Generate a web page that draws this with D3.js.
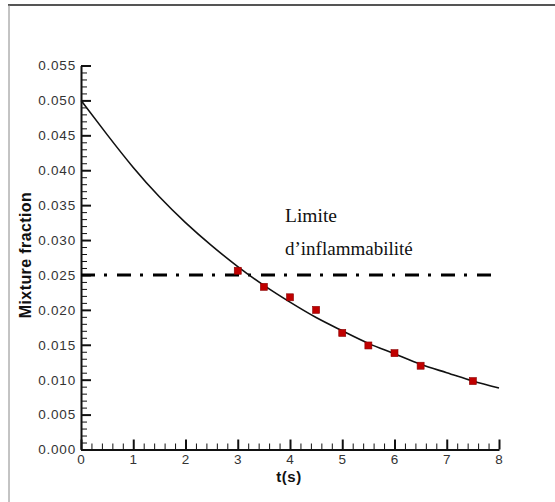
<!DOCTYPE html>
<html><head><meta charset="utf-8">
<script src="https://cdn.jsdelivr.net/npm/d3@7"></script>
<style>
body{margin:0;background:#fff;}
svg{display:block;}
</style></head>
<body>
<svg id="chart" width="555" height="502"></svg>
<script>
// ---- data ----
const curveT = [0, 0.5, 1, 1.5, 2, 2.5, 3, 3.5, 4, 4.5, 5, 5.5, 6, 6.5, 7, 7.5, 8];
const curveY = [0.0500, 0.0451, 0.0404, 0.0362, 0.0325, 0.0292, 0.0262, 0.0235, 0.0211, 0.0189, 0.0170, 0.0152, 0.0137, 0.0122, 0.0110, 0.0098, 0.0088];
const markerT = [3.0, 3.5, 4.0, 4.5, 5.0, 5.5, 6.0, 6.5, 7.5];
const markerY = [0.0256, 0.0233, 0.0218, 0.0200, 0.0167, 0.0149, 0.0138, 0.0120, 0.0098];
const limitY = 0.025;
const limitT = [0, 7.85];
const xTicks = [0, 1, 2, 3, 4, 5, 6, 7, 8];
const yTicks = [0, 0.005, 0.010, 0.015, 0.020, 0.025, 0.030, 0.035, 0.040, 0.045, 0.050, 0.055];
const xLabel = "t(s)";
const yLabel = "Mixture fraction";
const annotation = ["Limite", "d\u2019inflammabilit\u00e9"];

// ---- layout ----
const svg = d3.select("#chart");
const x = d3.scaleLinear().domain([0, 8]).range([81, 499]);
const y = d3.scaleLinear().domain([0, 0.055]).range([449.5, 65.5]);

// frame
svg.append("line").attr("x1", 8).attr("x2", 555).attr("y1", 5).attr("y2", 5)
  .attr("stroke", "#555").attr("stroke-width", 2);
svg.append("line").attr("x1", 9).attr("x2", 9).attr("y1", 5).attr("y2", 502)
  .attr("stroke", "#888").attr("stroke-width", 1);

// minor ticks
const xMinor = d3.range(0, 8.0001, 0.2).filter(v => Math.abs(v - Math.round(v)) > 1e-6);
const yMinor = d3.range(0, 0.05501, 0.001).filter(v => Math.abs(v / 0.005 - Math.round(v / 0.005)) > 1e-6);

svg.append("g").attr("transform", `translate(0,${y(0)})`)
  .call(d3.axisBottom(x).tickValues(xMinor).tickSizeInner(-6).tickSizeOuter(0).tickFormat(""))
  .call(g => g.select(".domain").remove())
  .call(g => g.selectAll("line").attr("stroke", "#111").attr("stroke-width", 1));
svg.append("g").attr("transform", `translate(${x(0)},0)`)
  .call(d3.axisLeft(y).tickValues(yMinor).tickSizeInner(-6).tickSizeOuter(0).tickFormat(""))
  .call(g => g.select(".domain").remove())
  .call(g => g.selectAll("line").attr("stroke", "#111").attr("stroke-width", 1));

// major axes
const xAxis = svg.append("g").attr("transform", `translate(0,${y(0)})`)
  .call(d3.axisBottom(x).tickValues(xTicks).tickSizeInner(-10).tickSizeOuter(0).tickPadding(4).tickFormat(d3.format("d")));
const yAxis = svg.append("g").attr("transform", `translate(${x(0)},0)`)
  .call(d3.axisLeft(y).tickValues(yTicks).tickSizeInner(-10).tickSizeOuter(0).tickPadding(5).tickFormat(d3.format(".3f")));
[xAxis, yAxis].forEach(g => {
  g.select(".domain").attr("stroke", "#111").attr("stroke-width", 2);
  g.selectAll(".tick line").attr("stroke", "#111").attr("stroke-width", 2);
  g.selectAll(".tick text").attr("fill", "#333").attr("font-family", "Liberation Sans, Arial, sans-serif")
    .attr("font-size", 13.5).attr("letter-spacing", "0.8px");
});
xAxis.selectAll(".tick text").attr("dy", "0.8em");

// limit line (dash-dot)
svg.append("line")
  .attr("x1", x(limitT[0])).attr("x2", x(limitT[1]))
  .attr("y1", y(limitY)).attr("y2", y(limitY))
  .attr("stroke", "#000").attr("stroke-width", 3)
  .attr("stroke-dasharray", "14,9,3,10");

// curve
const line = d3.line().x((d, i) => x(curveT[i])).y(d => y(d)).curve(d3.curveNatural);
svg.append("path").datum(curveY).attr("d", line)
  .attr("fill", "none").attr("stroke", "#111").attr("stroke-width", 1.6);

// markers
svg.append("g").selectAll("rect").data(markerY).join("rect")
  .attr("x", (d, i) => x(markerT[i]) - 3.5).attr("y", d => y(d) - 3.5)
  .attr("width", 7).attr("height", 7)
  .attr("fill", "#c00000").attr("stroke", "#8a0000").attr("stroke-width", 0.6);

// annotation
svg.append("text").attr("x", 285).attr("y", 222).text(annotation[0])
  .attr("font-family", "Liberation Serif, Times New Roman, serif").attr("font-size", 19.5).attr("fill", "#111");
svg.append("text").attr("x", 285).attr("y", 255).text(annotation[1])
  .attr("font-family", "Liberation Serif, Times New Roman, serif").attr("font-size", 19).attr("fill", "#111");

// axis titles
svg.append("text").attr("x", 289).attr("y", 482).attr("text-anchor", "middle").text(xLabel)
  .attr("font-family", "Liberation Sans, Arial, sans-serif").attr("font-weight", "bold").attr("font-size", 15)
  .attr("letter-spacing", "0.5px").attr("fill", "#111");
svg.append("text").attr("transform", "translate(31,255) rotate(-90)").attr("text-anchor", "middle").text(yLabel)
  .attr("font-family", "Liberation Sans, Arial, sans-serif").attr("font-weight", "bold").attr("font-size", 16)
  .attr("letter-spacing", "0.4px").attr("fill", "#111");
</script>
</body></html>
